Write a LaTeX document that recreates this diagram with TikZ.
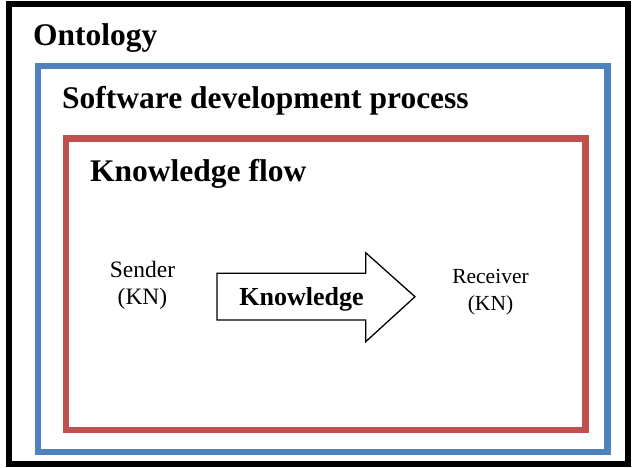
\documentclass[tikz,border=0pt]{standalone}
\usepackage{fontspec}
\setmainfont{Liberation Serif}
\definecolor{layerblue}{RGB}{79,129,189}
\definecolor{layerred}{RGB}{192,80,77}
\begin{document}
\begin{tikzpicture}[x=1pt,y=-1pt,
    title/.style={anchor=base west,inner sep=0pt,font=\fontsize{31.5}{36}\selectfont\bfseries},
    party/.style={align=center,inner sep=0pt},
    frame/.style={line width=6.5pt}]
    \useasboundingbox (0,0) rectangle (632,467);
    \draw[line width=6pt] (9,3.5) rectangle (627.5,464);
    \draw[frame,layerblue] (38,66) rectangle (607.5,452);
    \draw[frame,layerred] (66,138.5) rectangle (585.5,430);
    \node[title] (ontology) at (33,45) {Ontology};
    \node[title] (process) at (62,108) {Software development process};
    \node[title] (flow) at (90,181.5) {Knowledge flow};
    \node[party,font=\fontsize{23.5}{26.7}\selectfont] (sender) at (142.5,285) {Sender\\(KN)};
    \node[party,font=\fontsize{21.5}{26.7}\selectfont] (receiver) at (490.5,292) {Receiver\\(KN)};
    \draw[line width=1.3pt,line join=miter] (217,273.3) -- (365.7,273.3) -- (365.7,252.7) -- (415,296.7)
        -- (365.7,341.7) -- (365.7,320) -- (217,320) -- cycle;
    \node[anchor=base,inner sep=0pt,font=\fontsize{26}{30}\selectfont\bfseries] (knowledge) at (301.5,305) {Knowledge};
\end{tikzpicture}
\end{document}
